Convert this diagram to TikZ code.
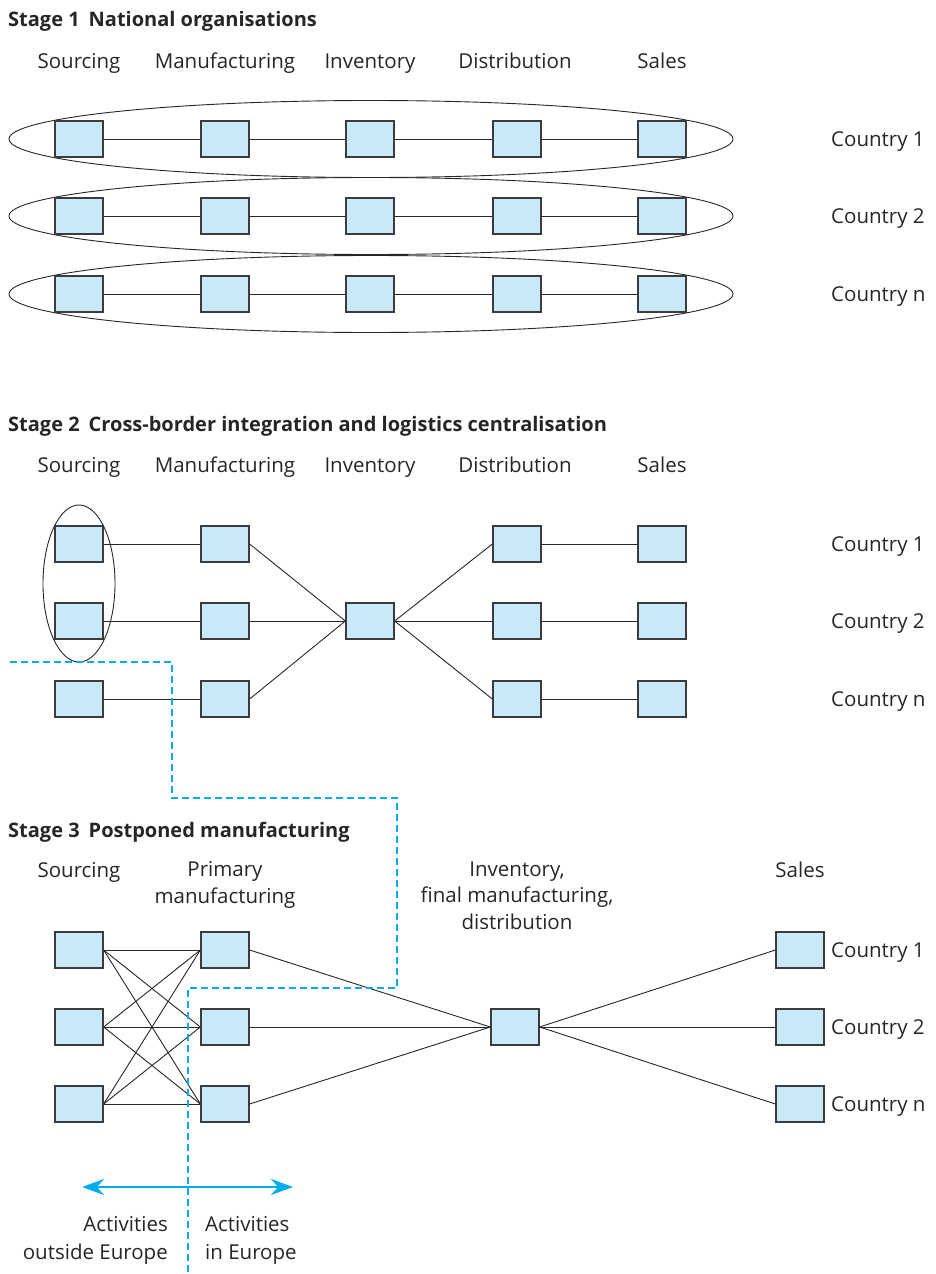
\documentclass[tikz,border=0pt]{standalone}
\usepackage{fontspec}
\setmainfont{Open Sans}
\usetikzlibrary{arrows.meta}
\definecolor{boxblue}{RGB}{199,233,248}
\definecolor{boxline}{RGB}{60,60,60}
\definecolor{europe}{RGB}{0,174,239}
\begin{document}
\begin{tikzpicture}[x=1pt,y=-1pt,
  unit/.style={draw=boxline,line width=1.3pt,fill=boxblue,minimum width=48pt,minimum height=36pt,inner sep=0pt},
  link/.style={draw=black!85,line width=0.9pt},
  ring/.style={draw=black!85,line width=0.9pt},
  lbl/.style={inner sep=0pt,font=\fontsize{20.5}{26.5}\selectfont,text=black!85},
  head/.style={inner sep=0pt,anchor=base west,font=\fontsize{20}{24}\selectfont\bfseries,text=black!85},
  border/.style={draw=europe,line width=1.1pt,dash pattern=on 7pt off 4pt},
  span/.style={draw=europe,line width=2.2pt,{Stealth[length=22pt,width=16pt,inset=7pt]}-{Stealth[length=22pt,width=16pt,inset=7pt]}}
]
\useasboundingbox (0,0) rectangle (936,1274);

% ---------------- Stage 1 ----------------
\node[head] (h1) at (8,26) {Stage 1\hspace{0.45em}National organisations};
\foreach \n/\x in {Sourcing/79,Manufacturing/225,Inventory/370,Distribution/515,Sales/662}
  \node[lbl,anchor=base] at (\x,68) {\n};
\foreach \r/\y/\c in {a/139/1,b/216/2,c/294/n}{
  \draw[ring] (371,\y) ellipse [x radius=362, y radius=38.5];
  \foreach \k/\x in {1/79,2/225,3/370,4/517,5/662}
    \node[unit] (s1\r\k) at (\x,\y) {};
  \draw[link] (s1\r1) -- (s1\r2) -- (s1\r3) -- (s1\r4) -- (s1\r5);
  \node[lbl,anchor=base west] (c1\r) at (831,\y+7.5) {Country \c};
}

% ---------------- Stage 2 ----------------
\node[head] (h2) at (8,431) {Stage 2\hspace{0.45em}Cross-border integration and logistics centralisation};
\foreach \n/\x in {Sourcing/79,Manufacturing/225,Inventory/370,Distribution/515,Sales/662}
  \node[lbl,anchor=base] at (\x,472) {\n};
\node[unit] (inv) at (370,621) {};
\foreach \r/\y/\c in {a/544/1,b/621/2,c/699/n}{
  \node[unit] (src\r) at (79,\y) {};
  \node[unit] (man\r) at (225,\y) {};
  \node[unit] (dis\r) at (517,\y) {};
  \node[unit] (sal\r) at (662,\y) {};
  \draw[link] (src\r) -- (man\r);
  \draw[link] (man\r.east) -- (inv.west);
  \draw[link] (inv.east) -- (dis\r.west);
  \draw[link] (dis\r) -- (sal\r);
  \node[lbl,anchor=base west] (c2\r) at (831,\y+7.5) {Country \c};
}
\draw[ring] (79,583.5) ellipse [x radius=36, y radius=78.5];

% ---------------- Stage 3 ----------------
\node[head] (h3) at (8,837) {Stage 3\hspace{0.45em}Postponed manufacturing};
\node[lbl,anchor=base] at (79,877) {Sourcing};
\node[lbl,anchor=north,align=center] at (225,861.5) {Primary\\manufacturing};
\node[lbl,anchor=north,align=center] at (517,861.5) {Inventory,\\final manufacturing,\\distribution};
\node[lbl,anchor=base] at (800,877) {Sales};
\node[unit] (hub) at (515,1027) {};
\foreach \r/\y/\c in {a/950/1,b/1027/2,c/1104/n}{
  \node[unit] (ps\r) at (79,\y) {};
  \node[unit] (pm\r) at (225,\y) {};
  \node[unit] (ms\r) at (800,\y) {};
  \draw[link] (pm\r.east) -- (hub.west);
  \draw[link] (hub.east) -- (ms\r.west);
  \node[lbl,anchor=base west] (c3\r) at (831,\y+7.5) {Country \c};
}
\foreach \i in {a,b,c}
  \foreach \j in {a,b,c}
    \draw[link] (ps\i.east) -- (pm\j.west);

% Europe boundary and its labels
\coordinate (e0) at (10,662);
\coordinate (e1) at (172,662);
\coordinate (e2) at (172,798);
\coordinate (e3) at (397,798);
\coordinate (e4) at (397,988);
\coordinate (e5) at (188,988);
\coordinate (e6) at (188,1274);
\draw[border] (e0) -- (e1) -- (e2) -- (e3) -- (e4) -- (e5) -- (e6);
\coordinate (aw) at (82,1187);
\coordinate (ae) at (293,1187);
\draw[span] (aw) -- (ae);
\node[lbl,anchor=north east,align=right,font=\fontsize{20.5}{27.5}\selectfont] (out) at (168,1216.5) {Activities\\outside Europe};
\node[lbl,anchor=north west,align=left,font=\fontsize{20.5}{27.5}\selectfont] (in) at (205,1216.5) {Activities\\in Europe};
\end{tikzpicture}
\end{document}
